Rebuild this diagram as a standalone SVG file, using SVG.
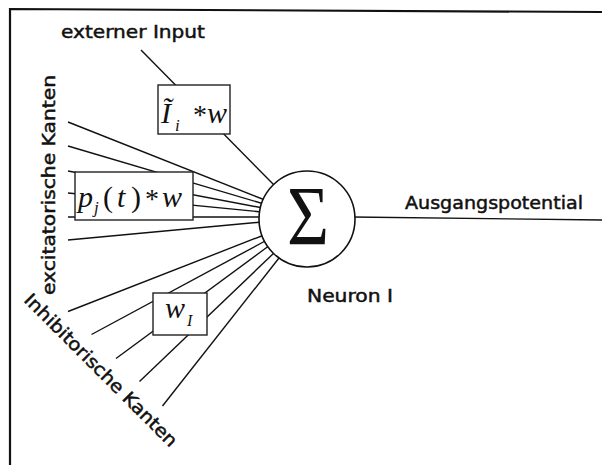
<svg xmlns="http://www.w3.org/2000/svg" width="602" height="465" viewBox="0 0 602 465">
<style>
.ln{stroke:#111;stroke-width:1.4;fill:none}
.box{fill:#fff;stroke:#222;stroke-width:1.4}
.lbl{font-family:"DejaVu Sans","Liberation Sans",sans-serif;font-size:18px;fill:#111;stroke:#111;stroke-width:0.5}
.m{font-family:"Liberation Serif","Times New Roman",serif;font-style:italic;fill:#111}
.r{font-family:"Liberation Serif","Times New Roman",serif;fill:#111}
</style>
<rect width="602" height="465" fill="#fff"/>
<g id="frame">
<path d="M10 465 L10 9 L602 12" fill="none" stroke="#111" stroke-width="2.2"/>
</g>
<g id="connectors">
<line class="ln" x1="141" y1="50" x2="276" y2="187"/>
<line class="ln" x1="68" y1="122" x2="265" y2="200"/>
<line class="ln" x1="68" y1="146" x2="264" y2="204"/>
<line class="ln" x1="68" y1="171" x2="263" y2="208"/>
<line class="ln" x1="68" y1="193" x2="262" y2="212"/>
<line class="ln" x1="68" y1="217" x2="262" y2="217"/>
<line class="ln" x1="68" y1="240" x2="262" y2="222"/>
<line class="ln" x1="68" y1="311.5" x2="264" y2="235"/>
<line class="ln" x1="91.5" y1="334.5" x2="267" y2="240"/>
<line class="ln" x1="116" y1="358.5" x2="270" y2="245"/>
<line class="ln" x1="139.5" y1="381.5" x2="275" y2="252"/>
<line class="ln" x1="162.5" y1="406" x2="279" y2="258"/>
<line class="ln" x1="352" y1="217" x2="602" y2="220"/>
</g>
<g id="input-weight">
<rect class="box" x="158" y="85" width="72" height="49"/>
<text class="m" x="161" y="123" font-size="30">Ĩ</text>
<text class="m" x="175" y="131" font-size="17">i</text>
<text class="r" x="193" y="124" font-size="28">*</text>
<text class="m" x="207" y="123" font-size="30">w</text>
</g>
<g id="excitatory-weight">
<rect class="box" x="75" y="172" width="118" height="48"/>
<text class="m" x="78" y="207" font-size="30">p</text>
<text class="m" x="94" y="213" font-size="17">j</text>
<text class="r" x="103" y="207" font-size="30">(</text>
<text class="m" x="117" y="207" font-size="30">t</text>
<text class="r" x="131" y="207" font-size="30">)</text>
<text class="r" x="145" y="208" font-size="28">*</text>
<text class="m" x="162" y="207" font-size="30">w</text>
</g>
<g id="inhibitory-weight">
<rect class="box" x="153" y="293" width="54" height="42"/>
<text class="m" x="165" y="318" font-size="30">w</text>
<text class="m" x="187" y="326" font-size="16">I</text>
</g>
<g id="neuron">
<circle cx="307" cy="219" r="48" fill="#fff" stroke="#111" stroke-width="1.6"/>
<text class="r" x="287" y="245" font-size="84" textLength="42" lengthAdjust="spacingAndGlyphs">Σ</text>
</g>
<g id="labels">
<text class="lbl" x="61" y="38" textLength="144" lengthAdjust="spacingAndGlyphs">externer Input</text>
<text class="lbl" x="405" y="208.5" font-size="19" textLength="178" lengthAdjust="spacingAndGlyphs">Ausgangspotential</text>
<text class="lbl" x="307" y="301.5" font-size="19" textLength="86" lengthAdjust="spacingAndGlyphs">Neuron I</text>
<text class="lbl" transform="translate(54.5,295) rotate(-90)" textLength="220" lengthAdjust="spacingAndGlyphs">excitatorische Kanten</text>
<text class="lbl" transform="translate(23,301) rotate(45)" textLength="208" lengthAdjust="spacingAndGlyphs">Inhibitorische Kanten</text>
</g>
</svg>
